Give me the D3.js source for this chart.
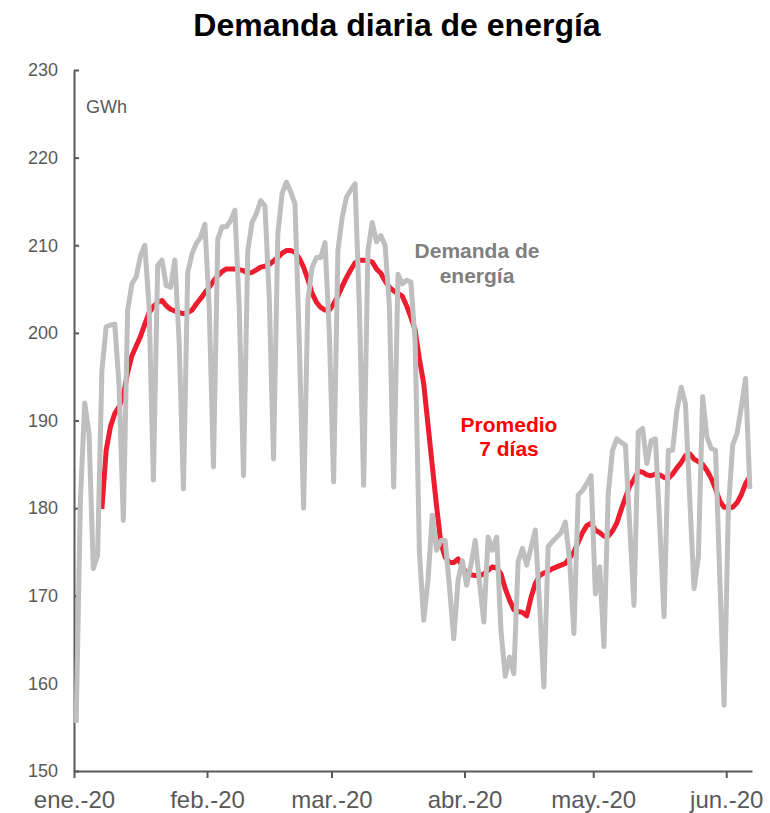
<!DOCTYPE html>
<html><head><meta charset="utf-8">
<script src="https://cdn.jsdelivr.net/npm/d3@7"></script>
<style>body{margin:0;background:#fff}svg{display:block;font-family:"Liberation Sans",Arial,Helvetica,sans-serif}</style>
</head><body><svg id="c" width="770" height="813"></svg>
<script>
// ---- data ----
const demandStart = "2020-01-01";
const demand = [
  // Jan
  155.5,181,192,188.5,173.1,174.6,195.7,200.7,200.9,201,194,178.6,202.6,205.6,206.4,208.8,210,203,183.2,207.7,208.3,205.4,205.2,208.3,199,182.2,206.9,209,210.2,210.9,212.4,
  // Feb
  203,184.7,210.7,212.1,212.1,212.8,214,203,183.7,209.4,212.6,213.6,215.1,214.5,204,185.6,211.3,215.9,217.2,216.1,214.7,199,180,203.7,207.5,208.6,208.6,210.3,200,
  // Mar
  183,209.4,213.2,215.5,216.3,217,203,182.6,209.4,212.6,210.4,211.1,210,203,182.4,206.7,205.6,206,205.8,199,175,167.2,171.8,179.2,175.2,176.3,176.3,171,165.1,171.8,174,
  // Apr
  171.2,173.5,176.3,171.5,167,176.7,175.2,176.7,166,160.8,163,161.1,173.9,175.4,173.5,175.5,177.5,169,159.6,175.6,176.2,176.7,177.2,178.4,174,165.7,181.5,182,182.8,183.7,
  // May
  170.2,173.3,164.2,181.7,186.6,187.9,187.5,187.2,178,168.9,188.7,189.1,185.1,187.7,187.9,178,167.6,186.6,186.6,191.2,193.8,191.9,181,170.8,174.4,192.7,188.1,186.8,186.6,172,157.5,
  // Jun
  180,187.2,188.5,191.5,194.8,182.2
];
const avgStart = "2020-01-07";
const avg7 = [
  // Jan 7-31
  179.9,186.6,189.3,190.8,191.6,192.8,195.5,197.4,198.5,199.6,201.0,202.3,203.0,203.5,203.7,203.1,202.7,202.5,202.3,202.2,202.3,202.6,203.3,203.9,204.6,
  // Feb
  205.2,205.9,206.5,207.0,207.3,207.3,207.3,207.2,207.1,206.8,206.9,207.2,207.5,207.6,207.8,208.2,208.6,209.1,209.4,209.4,209.2,208.5,207.5,206.1,204.5,203.5,202.9,202.6,202.6,
  // Mar
  203.3,204.2,205.3,206.3,207.2,208.0,208.3,208.3,208.2,208.1,207.3,206.8,205.9,205.2,204.8,204.5,204.2,203.1,201.8,200.3,197.0,194.2,189.5,184.8,180.2,176.0,174.4,173.8,173.8,174.2,173.4,
  // Apr
  172.5,172.4,172.3,172.3,172.5,172.9,173.3,173.2,172.5,170.8,169.5,168.4,168.2,168.1,167.7,169.8,171.4,172.3,172.6,172.8,173.1,173.3,173.5,173.7,174.3,175.0,176.1,177.2,178.0,178.3,
  // May
  177.5,177.2,176.8,176.8,177.4,178.3,179.8,181.2,182.5,183.3,184.2,184.1,183.8,183.7,183.9,183.8,183.5,183.4,183.9,184.6,185.2,186.0,186.2,185.6,185.3,185.0,184.3,183.4,182.2,180.8,180.1,
  // Jun
  180.1,180.1,180.6,181.5,182.8,183.6
];
const yTicks = [150,160,170,180,190,200,210,220,230];
const xTickDates = ["2020-01-01","2020-02-01","2020-03-01","2020-04-01","2020-05-01","2020-06-01"];
const xTickLabels = ["ene.-20","feb.-20","mar.-20","abr.-20","may.-20","jun.-20"];
const xDomain = ["2020-01-01","2020-06-07"];
const yDomain = [150,230];

// ---- chart ----
(function () {
  const parse = d3.timeParse("%Y-%m-%d");
  const svg = d3.select("#c");
  const mL = 74, mR = 752, mT = 70, mB = 771;
  const x = d3.scaleTime().domain(xDomain.map(parse)).range([mL, mR]);
  const y = d3.scaleLinear().domain(yDomain).range([mB, mT]);
  const axisCol = "#595959";

  const toPts = (start, arr) => arr.map((v, i) => ({
    d: d3.timeHour.offset(d3.timeDay.offset(parse(start), i), 12), v
  }));
  const line = d3.line().x(p => x(p.d)).y(p => y(p.v));

  // title
  svg.append("text").attr("x", 397).attr("y", 36).attr("text-anchor", "middle")
    .attr("font-size", 32).attr("font-weight", "bold").attr("fill", "#000")
    .text("Demanda diaria de energía");

  // axes
  const ya = svg.append("g").attr("transform", `translate(${mL},0)`)
    .call(d3.axisLeft(y).tickValues(yTicks).tickSizeInner(-5).tickSizeOuter(0).tickPadding(16));
  const xa = svg.append("g").attr("transform", `translate(0,${mB})`)
    .call(d3.axisBottom(x).tickValues(xTickDates.map(parse))
      .tickFormat((d, i) => xTickLabels[i]).tickSizeInner(7).tickSizeOuter(0).tickPadding(13));
  [ya, xa].forEach(g => {
    g.select(".domain").attr("stroke", axisCol).attr("stroke-width", 2);
    g.selectAll(".tick line").attr("stroke", axisCol).attr("stroke-width", 2);
    g.selectAll(".tick text").attr("fill", axisCol).attr("font-family", "'Liberation Sans',Arial,sans-serif");
  });
  ya.selectAll(".tick text").attr("font-size", 18);
  xa.selectAll(".tick text").attr("font-size", 24);

  svg.append("text").attr("x", 86).attr("y", 113).attr("font-size", 18).attr("fill", axisCol).text("GWh");

  // lines: 7-day average first, daily demand drawn over it
  svg.append("path").datum(toPts(avgStart, avg7)).attr("d", line)
    .attr("fill", "none").attr("stroke", "#ed1c2e").attr("stroke-width", 5)
    .attr("stroke-linejoin", "round").attr("stroke-linecap", "butt");
  svg.append("path").datum(toPts(demandStart, demand)).attr("d", line)
    .attr("fill", "none").attr("stroke", "#bfbfbf").attr("stroke-width", 5)
    .attr("stroke-linejoin", "round").attr("stroke-linecap", "butt");

  // annotations
  const ann = (txt, cx, cy, col) => svg.append("text").attr("x", cx).attr("y", cy)
    .attr("text-anchor", "middle").attr("font-size", 21).attr("font-weight", "bold")
    .attr("fill", col).text(txt);
  ann("Demanda de", 477, 258, "#7f7f7f");
  ann("energía", 477, 283, "#7f7f7f");
  ann("Promedio", 509, 432, "#ff0000");
  ann("7 días", 509, 456, "#ff0000");
})();
</script>
</body></html>
